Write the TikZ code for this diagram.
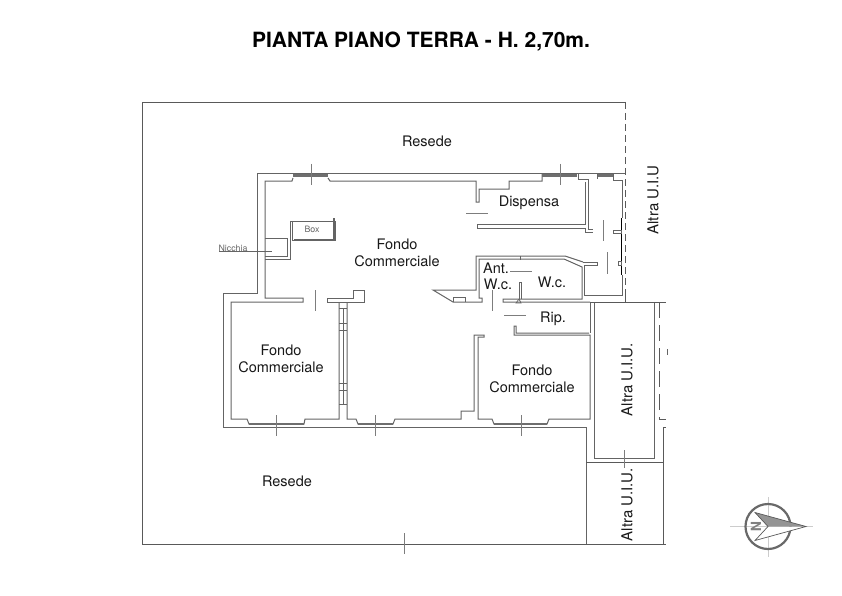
\documentclass[tikz,border=0pt]{standalone}
\usepackage{fontspec}
\setmainfont{TeX Gyre Heros}
\usetikzlibrary{positioning}
\definecolor{wallgray}{RGB}{100, 100, 100}
\definecolor{glassgray}{RGB}{110, 110, 110}
\definecolor{tickgray}{RGB}{125, 125, 125}
\definecolor{compassgray}{RGB}{105, 105, 105}

\begin{document}
\begin{tikzpicture}[
    x=1pt, y=-1pt,
    wall/.style={draw=wallgray, line width=1pt},
    thinwall/.style={draw=wallgray, line width=0.7pt},
    site/.style={draw=black!65, line width=0.8pt},
    glass/.style={draw=glassgray, line width=2.4pt},
    tick/.style={draw=tickgray, line width=1pt},
    roomlabel/.style={font=\fontsize{14.5}{17.5}\selectfont, align=center, text=black!90},
    uiulabel/.style={font=\fontsize{15}{15}\selectfont, rotate=90, text=black!90},
    smalllabel/.style={font=\fontsize{8.8}{9}\selectfont, text=black!60}
]
\useasboundingbox (0,0) rectangle (842,596);
\fill[white] (0,0) rectangle (842,596);

% Title
\node[font=\bfseries\fontsize{21}{24}\selectfont] (title) at (421,42) {PIANTA PIANO TERRA - H. 2,70m.};

% Site boundary
\draw[site] (625,102) -- (142,102) -- (142,544) -- (666,544);
\draw[site, dash pattern=on 7pt off 4pt] (625,102) -- (625,296);
\draw[site] (625,296) -- (625,302);
\draw[tick] (404,533) -- (404,554);

% Outer walls
\draw[wall] (625,173) -- (257,173) -- (257,293) -- (223,293) -- (223,427) -- (586,427) -- (586,544);
\draw[site] (586,462) -- (663,462) -- (663,544);
\draw[site] (663,462) -- (663,427) -- (666,427);

% Main room, top and left side
\draw[wall] (293,178) -- (292,181) -- (265,181) -- (265,298) -- (303,298) -- (303,302) -- (231,302) -- (231,419) -- (247,419) -- (249,424) -- (304,424) -- (305,419) -- (339,419) -- (339,302);
\draw[wall] (328,178) -- (330,181) -- (476,181) -- (476,202) -- (479,202) -- (479,189) -- (509,189) -- (509,181) -- (542,181) -- (542,173);
\draw[wall] (347,302) -- (347,419) -- (356,419) -- (358,424) -- (393,424) -- (395,419) -- (461,419) -- (461,411) -- (474,411) -- (474,335) -- (484,335) -- (484,337) -- (478,337) -- (478,419) -- (492,419) -- (494,424) -- (547,424) -- (549,419) -- (590,419) -- (590,335) -- (514,335) -- (514,326) -- (516,326) -- (516,333) -- (589,333);

% Stub by the door, pier and cells of the party wall
\draw[wall] (327,298) -- (353,298) -- (353,290) -- (364,290) -- (364,302) -- (327,302) -- cycle;
\foreach \yc in {308,323,330,383,390,404} {
    \draw[thinwall] (339,\yc) -- (347,\yc);
}
\draw[thinwall] (343,308) -- (343,404);
\draw[tick] (315,290) -- (315,311);

% Windows
\draw[glass] (293,175.5) -- (328,175.5);
\draw[glass] (542,175.5) -- (577,175.5);
\draw[glass] (597,175.5) -- (613,175.5);
\draw[glass] (249,424) -- (304,424);
\draw[glass] (358,424) -- (393,424);
\draw[glass] (494,424) -- (547,424);
\draw[tick] (311,164) -- (311,185);
\draw[tick] (560,164) -- (560,185);
\draw[tick] (276,415) -- (276,436);
\draw[tick] (375,415) -- (375,436);
\draw[tick] (521,415) -- (521,436);

% Box and Nicchia
\draw[wall] (265,238) -- (287,238) -- (287,256) -- (265,256);
\draw[wall] (265,259) -- (290,259) -- (290,221) -- (335,221) -- (335,240) -- (292,240) -- (292,221);
\draw[draw=wallgray, line width=1.6pt] (334,218) -- (334,240) -- (294,240);
\draw[thinwall] (219,251) -- (272,251);
\node[smalllabel] (nicchia) at (233,248) {Nicchia};
\node[smalllabel] (box) at (312,229.5) {Box};

% Dispensa
\draw[wall] (585,182) -- (585,224) -- (477,224) -- (477,228) -- (585,228) -- (585,232) -- (593,232);
\draw[wall] (578,173) -- (578,179) -- (588,179) -- (588,229) -- (593,229);
\draw[wall] (613,173) -- (613,180) -- (622,180);
\draw[thinwall] (597,173) -- (597,179);
\draw[tick] (466,213) -- (488,213);

% Right hand passage
\draw[thinwall] (622,180) -- (622,218);
\draw[draw=black, line width=0.8pt] (621,218) -- (621,275);
\draw[thinwall] (622,275) -- (622,295) -- (584,295) -- (584,265) -- (597,265) -- (597,262) -- (583,262);
\draw[thinwall] (613,230) -- (621,230) -- (621,233) -- (613,233) -- cycle;
\draw[thinwall] (618,261) -- (621,261) -- (621,265) -- (618,265) -- cycle;
\draw[tick] (603,220) -- (603,241);
\draw[tick] (607,252) -- (607,274);

% W.c. block
\draw[wall] (583,262) -- (565,256) -- (476,256) -- (476,290) -- (433,290) -- (453,302) -- (482,302) -- (482,298) -- (479,298) -- (479,259) -- (564,259) -- (582,267) -- (582,299) -- (503,299) -- (503,302) -- (590,302);
\draw[wall] (453,302) -- (453,297) -- (465,297) -- (465,302);
\draw[wall, line width=0.8pt] (519,299) -- (519,282) -- (521.5,282) -- (521.5,299);
\draw[thinwall] (519,299) -- (516,303) -- (521,303) -- (519,299);
\draw[wall] (520,256) -- (520,260);
\draw[tick] (510,271) -- (532,271);
\draw[tick] (492,290) -- (492,311);
\draw[tick] (504,315) -- (526,315);

% Rip. room
\draw[wall] (590,302) -- (590,333);

% Altra U.I.U. and far right
\draw[wall] (594,302) rectangle (654,458);
\draw[site] (590,302) -- (666,302);
\draw[tick] (624,450) -- (624,470);
\draw[site, dash pattern=on 16pt off 7pt] (659,302) -- (659,419);
\draw[site] (659,419) -- (666,419);
\draw[thinwall] (667,349) -- (667,355);

% Labels
\node[roomlabel] (resedetop) at (427,141) {Resede};
\node[roomlabel] (resedebottom) at (287,481) {Resede};
\node[roomlabel] (fondomain) at (397,253) {Fondo\\Commerciale};
\node[roomlabel] (fondoleft) at (281,359) {Fondo\\Commerciale};
\node[roomlabel] (fondoright) at (532,379) {Fondo\\Commerciale};
\node[roomlabel] (dispensa) at (529,203) {Dispensa};
\node[roomlabel] (ant) at (496,268) {Ant.};
\node[roomlabel] (antwc) at (498,284) {W.c.};
\node[roomlabel] (wc) at (552,282) {W.c.};
\node[roomlabel] (rip) at (553,319) {Rip.};
\node[uiulabel] (uiutop) at (653,200) {Altra U.I.U};
\node[uiulabel] (uiumid) at (627,380) {Altra U.I.U.};
\node[uiulabel, fill=white, inner sep=1pt] (uiulow) at (627,505) {Altra U.I.U.};

% Compass
\draw[black!20, line width=0.6pt] (730,526.5) -- (813,526.5);
\draw[black!20, line width=0.6pt] (768,497) -- (768,557);
\draw[compassgray, line width=2.2pt] (768,526.5) circle (22.5);
\fill[white] (806,526.5) -- (755,540.5) -- (768,526.5) -- cycle;
\fill[black!42] (806,526.5) -- (755,512.5) -- (768,526.5) -- cycle;
\draw[black!65, line width=0.7pt] (806,526.5) -- (755,512.5) -- (768,526.5) -- (755,540.5) -- cycle;
\node[font=\bfseries\fontsize{14}{14}\selectfont, text=black!50, rotate=-90, inner sep=0pt] (north) at (756,526.5) {N};
\end{tikzpicture}
\end{document}
